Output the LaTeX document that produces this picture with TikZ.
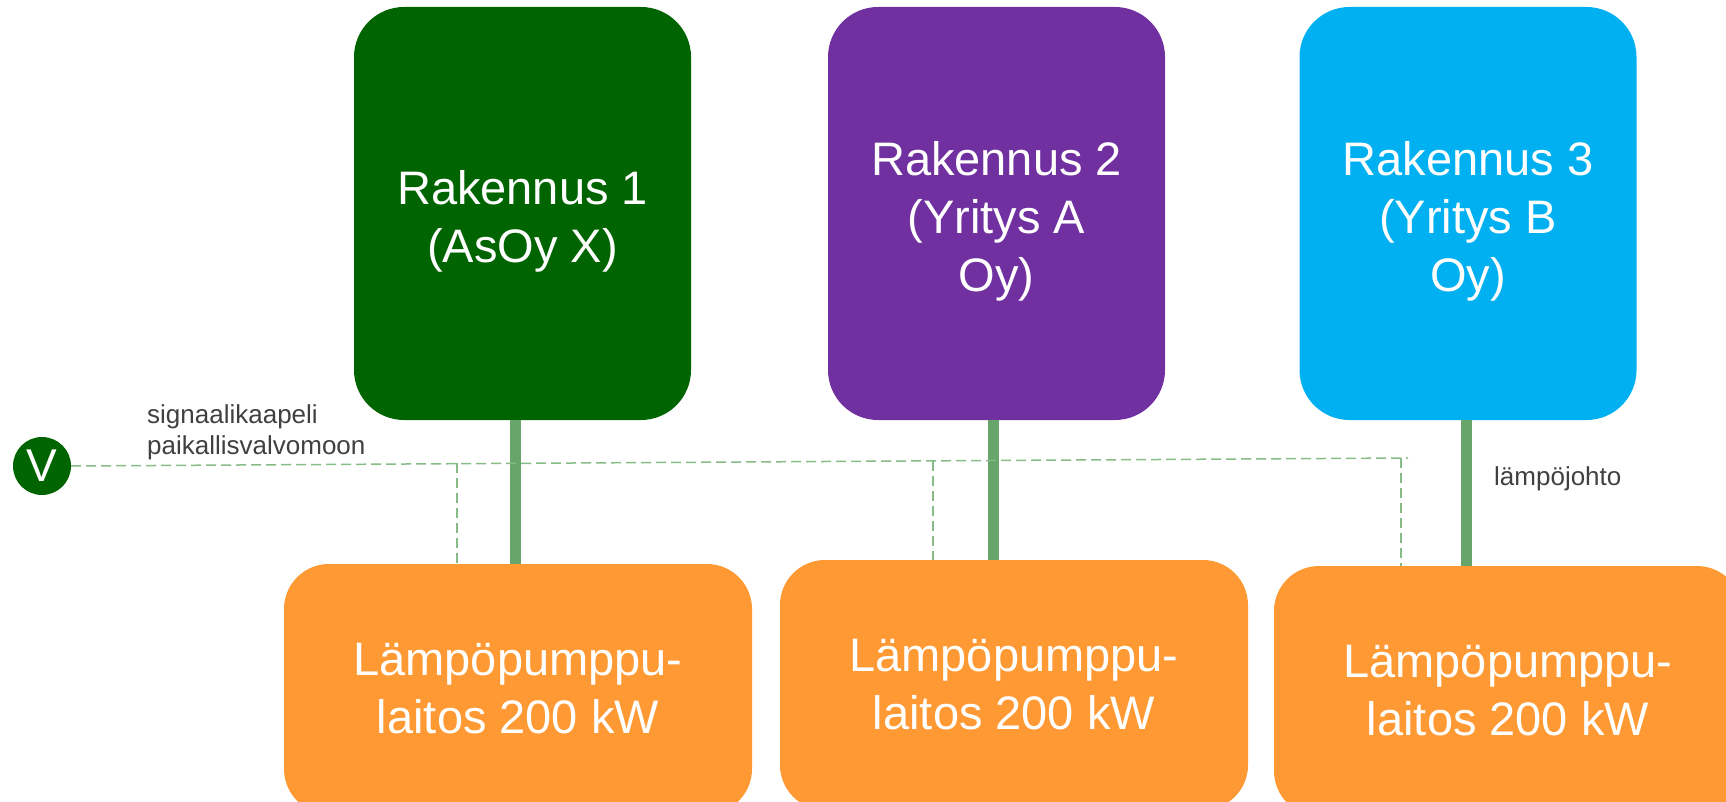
\documentclass[tikz,border=0pt]{standalone}
\usepackage{fontspec}
\setmainfont{Liberation Sans}
\usepackage{tikz}
\usetikzlibrary{positioning,calc}
\definecolor{rakgreen}{RGB}{0,100,0}
\definecolor{rakpurple}{RGB}{112,48,160}
\definecolor{rakblue}{RGB}{0,176,240}
\definecolor{pumporange}{RGB}{255,153,51}
\definecolor{pipegreen}{RGB}{103,165,106}
\definecolor{signalgreen}{RGB}{135,188,135}
\definecolor{labelgray}{RGB}{64,64,64}
\newcommand{\rakpad}{\rule{0pt}{50pt}}
\tikzset{
bigtext/.style={font=\fontsize{47}{58}\selectfont,text=white,align=center},
building/.style={bigtext,rounded corners=50pt,minimum width=337pt,minimum height=413pt,inner sep=0pt},
pumpbox/.style={bigtext,fill=pumporange,rounded corners=45pt,minimum width=468pt,minimum height=250pt,inner sep=0pt},
valvomo/.style={circle,fill=rakgreen,minimum size=58pt,inner sep=0pt,text=white,font=\fontsize{46}{50}\selectfont},
pipe/.style={line width=11pt,pipegreen},
signal/.style={line width=1.5pt,signalgreen,dash pattern=on 10pt off 5pt},
smalllabel/.style={font=\fontsize{26}{31}\selectfont,text=labelgray,align=left,inner sep=0pt}
}
\begin{document}
\begin{tikzpicture}[x=1pt,y=-1pt]
\useasboundingbox (0,0) rectangle (1726,802);
\clip (0,0) rectangle (1726,802);
\node[building,fill=rakgreen] (rak1) at (522.5,213.5) {\rakpad Rakennus 1\\(AsOy X)};
\node[building,fill=rakpurple] (rak2) at (996.5,213.5) {\rakpad Rakennus 2\\(Yritys A\\Oy)};
\node[building,fill=rakblue] (rak3) at (1468,213.5) {\rakpad Rakennus 3\\(Yritys B\\Oy)};
\node[pumpbox] (lp1) at (518,689) {Lämpöpumppu-\\laitos 200 kW};
\node[pumpbox] (lp2) at (1014,685) {Lämpöpumppu-\\laitos 200 kW};
\node[pumpbox] (lp3) at (1508,691) {Lämpöpumppu-\\laitos 200 kW};
\draw[pipe] ([xshift=-7pt]rak1.south) -- ([xshift=-7pt]rak1.south |- lp1.north);
\draw[pipe] ([xshift=-3pt]rak2.south) -- ([xshift=-3pt]rak2.south |- lp2.north);
\draw[pipe] ([xshift=-2pt]rak3.south) -- ([xshift=-2pt]rak3.south |- lp3.north);
\node[valvomo] (V) at (42,466) {V};
\coordinate (sigend) at (1408,458);
\coordinate (s1) at (457,463);
\coordinate (s2) at (933,460.5);
\coordinate (s3) at (1401,458);
\draw[signal] (V.east) -- (sigend);
\draw[signal] (s1) -- (s1 |- lp1.north);
\draw[signal] (s2) -- (s2 |- lp2.north);
\draw[signal] (s3) -- (s3 |- lp3.north);
\node[smalllabel,anchor=north west] (siglabel) at (147,404) {signaalikaapeli\\paikallisvalvomoon};
\node[smalllabel,anchor=base west] (pipelabel) at (1494,485) {lämpöjohto};
\end{tikzpicture}
\end{document}
